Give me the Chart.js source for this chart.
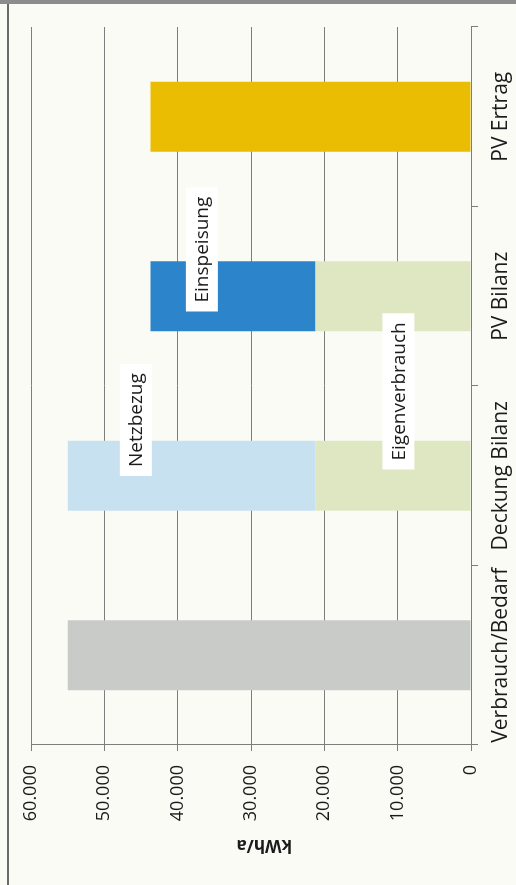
<!DOCTYPE html>
<html>
<head>
<meta charset="utf-8">
<script src="https://cdn.jsdelivr.net/npm/chart.js@4"></script>
<style>
  html, body { margin: 0; padding: 0; background: #fbfbf6; }
  body { width: 516px; height: 885px; position: relative; overflow: hidden; }
  .rahmen-links { position: absolute; left: 7px; top: 0; width: 2px; height: 885px; background: #6a6a6a; }
  .rahmen-oben { position: absolute; left: 0; top: 0; width: 516px; height: 4px; background: #8c8c8c; }
  /* chart is laid out upright and turned a quarter to the left */
  .blatt {
    position: absolute; left: 0; top: 0;
    width: 885px; height: 516px;
    transform-origin: 0 0;
    transform: translate(0, 885px) rotate(-90deg);
  }
</style>
</head>
<body>
<div class="blatt"><canvas id="bilanz" width="885" height="516"></canvas></div>
<div class="rahmen-links"></div>
<div class="rahmen-oben"></div>
<script>
const kategorien = ['Verbrauch/Bedarf', 'Deckung Bilanz', 'PV Bilanz', 'PV Ertrag']
const verbrauch = [55000, null, null, null]
const eigenverbrauch = [null, 21200, 21200, null]
const netzbezug = [null, 33800, null, null]
const einspeisung = [null, null, 22500, null]
const pvErtrag = [null, null, null, 43700]
const achseMax = 60000
const achseSchritt = 10000

const schrift = 'Open Sans'

const tausender = v => String(v).replace(/\B(?=(\d{3})+(?!\d))/g, '.')

// white boxed series names placed inside the plot
const beschriftung = {
  id: 'beschriftung',
  afterDatasetsDraw(chart, args, opts) {
    const ctx = chart.ctx
    const x = chart.scales.x
    const y = chart.scales.y
    ctx.save()
    ctx.font = opts.size + 'px "' + schrift + '"'
    ctx.textAlign = 'center'
    ctx.textBaseline = 'middle'
    opts.marken.forEach(m => {
      const text = chart.data.datasets[m.dataset].label
      const px = x.getPixelForValue(m.stelle)
      const py = y.getPixelForValue(m.wert)
      const w = ctx.measureText(text).width + 2 * opts.rand
      const h = opts.hoehe
      ctx.fillStyle = '#ffffff'
      ctx.fillRect(px - w / 2, py - h / 2, w, h)
      ctx.fillStyle = '#1b1b1b'
      ctx.fillText(text, px, py + 1)
    })
    ctx.restore()
  }
}

// axis title sits a little off the scale centre
const achsentitel = {
  id: 'achsentitel',
  afterDraw(chart, args, opts) {
    const ctx = chart.ctx
    const y = chart.scales.y
    ctx.save()
    ctx.translate(opts.links, y.getPixelForValue(opts.wert))
    ctx.rotate(-Math.PI / 2)
    ctx.font = 'bold ' + opts.size + 'px "' + schrift + '"'
    ctx.textAlign = 'center'
    ctx.textBaseline = 'middle'
    ctx.fillStyle = '#1b1b1b'
    ctx.fillText(opts.text, 0, 0)
    ctx.restore()
  }
}

const ctx = document.getElementById('bilanz').getContext('2d')
new Chart(ctx, {
  type: 'bar',
  data: {
    labels: kategorien,
    datasets: [
      { label: 'Verbrauch/Bedarf', data: verbrauch, backgroundColor: '#c9cbc8' },
      { label: 'Eigenverbrauch', data: eigenverbrauch, backgroundColor: '#dfe7c2' },
      { label: 'Netzbezug', data: netzbezug, backgroundColor: '#c7e1f1' },
      { label: 'Einspeisung', data: einspeisung, backgroundColor: '#2c84cb' },
      { label: 'PV Ertrag', data: pvErtrag, backgroundColor: '#ebbd02' },
    ]
  },
  options: {
    responsive: false,
    animation: false,
    barPercentage: 0.39,
    categoryPercentage: 1,
    layout: { padding: { left: 0, right: 27, top: 31, bottom: 0 } },
    plugins: {
      legend: { display: false },
      tooltip: { enabled: false },
      beschriftung: {
        size: 19,
        rand: 9,
        hoehe: 32,
        marken: [
          { dataset: 2, stelle: 1.31, wert: 45700 },
          { dataset: 3, stelle: 2.26, wert: 36700 },
          { dataset: 1, stelle: 1.47, wert: 9900 },
        ]
      },
      achsentitel: { text: 'kWh/a', size: 17, links: 40, wert: 28200 }
    },
    scales: {
      x: {
        stacked: true,
        afterFit: s => { s.height = 45 },
        grid: { drawOnChartArea: false, tickLength: 7, color: '#7d7d7d', offset: true },
        border: { color: '#7d7d7d' },
        ticks: {
          autoSkip: false,
          maxRotation: 0,
          minRotation: 0,
          color: '#1b1b1b',
          padding: 10,
          font: { family: schrift, size: 21 }
        }
      },
      y: {
        stacked: true,
        min: 0,
        max: achseMax,
        afterFit: s => { s.width = 140 },
        grid: { color: '#7d7d7d', tickLength: 6 },
        border: { color: '#7d7d7d' },
        ticks: {
          stepSize: achseSchritt,
          color: '#1b1b1b',
          padding: 14,
          font: { family: schrift, size: 18 },
          callback: v => tausender(v)
        }
      }
    }
  },
  plugins: [beschriftung, achsentitel]
})
</script>
</body>
</html>
